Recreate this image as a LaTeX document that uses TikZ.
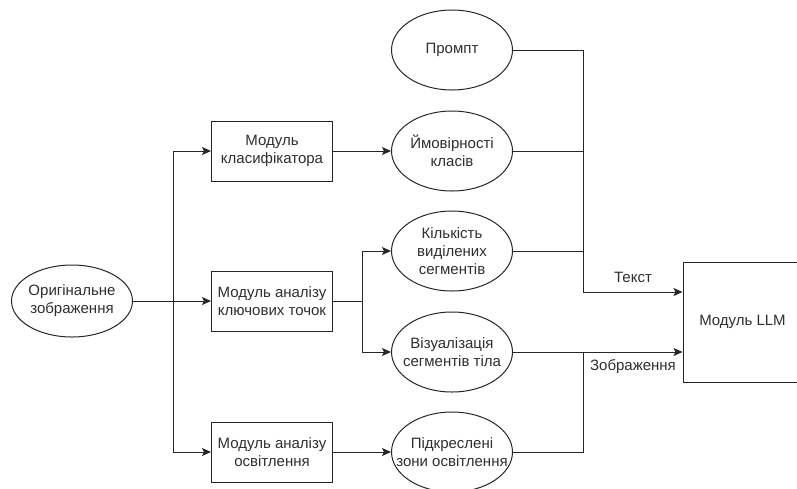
\documentclass[tikz,border=0pt]{standalone}
\usepackage{fontspec}
\setmainfont{Liberation Sans}
\usetikzlibrary{shapes.geometric,arrows.meta}

\tikzset{
  base/.style={font=\fontsize{15}{18}\selectfont, text=black!82},
  line/.style={draw=black!85, line width=1pt},
  arr/.style={line, -{Stealth[length=9pt,width=8pt,inset=2pt]}},
  modbox/.style={line, rectangle, minimum width=121pt, minimum height=60pt,
                 inner sep=0pt, base, align=center},
  oval/.style={line, ellipse, minimum width=121pt, minimum height=80pt, inner sep=0pt},
  ovaltext/.style={base, align=center, inner sep=0pt},
  lbl/.style={base, inner sep=0pt}
}

\begin{document}
\begin{tikzpicture}[x=1pt, y=-1pt]
  \useasboundingbox (0,0) rectangle (797,488);
  \clip (0,0) rectangle (797,488);

  % input image
  \node[oval, minimum height=72pt] (orig) at (72,301) {};
  \node[ovaltext] at (orig) {Оригінальне\\зображення};

  % analysis modules
  \node[modbox] (mcls) at (272,151) {Модуль\\класифікатора};
  \node[modbox] (mkey) at (272,301) {Модуль аналізу\\ключових точок};
  \node[modbox] (mlight) at (272,452) {Модуль аналізу\\освітлення};

  % intermediate results
  \node[oval] (prm) at (452,50) {};
  \node[ovaltext] at (prm) {Промпт};
  \node[oval] (prob) at (452,151) {};
  \node[ovaltext] at (prob) {Ймовірності\\класів};
  \node[oval] (cnt) at (452,251) {};
  \node[ovaltext] at (cnt) {Кількість\\виділених\\сегментів};
  \node[oval] (viz) at (452,352) {};
  \node[ovaltext] at (viz) {Візуалізація\\сегментів тіла};
  \node[oval] (zones) at (452,452) {};
  \node[ovaltext] at (zones) {Підкреслені\\зони освітлення};

  % language model
  \node[line, rectangle, minimum width=119pt, minimum height=120pt, inner sep=0pt]
    (llm) at (742.5,322) {};
  \node[lbl] at (llm) {Модуль LLM};

  % fan-out from the input image
  \coordinate (trunk) at (173,301);
  \draw[arr] (orig.east) -- (mkey.west);
  \draw[arr] (trunk) |- (mcls.west);
  \draw[arr] (trunk) |- (mlight.west);

  % module outputs
  \draw[arr] (mcls.east) -- (prob.west);
  \draw[arr] (mlight.east) -- (zones.west);
  \coordinate (split) at (362,301);
  \draw[line] (mkey.east) -- (split);
  \draw[arr] (split) |- (cnt.west);
  \draw[arr] (split) |- (viz.west);

  % text inputs
  \coordinate (tbus) at (583,292);
  \draw[line] (prm.east) -| (tbus);
  \draw[line] (prob.east) -- (prob.east -| tbus);
  \draw[line] (cnt.east) -- (cnt.east -| tbus);
  \draw[arr] (tbus) -- (tbus -| llm.west);
  \node[lbl] (ttext) at (633,277) {Текст};

  % image inputs
  \draw[arr] (viz.east) -- (viz.east -| llm.west);
  \draw[line] (zones.east) -| (583,352);
  \node[lbl] (timg) at (633,367) {Зображення};
\end{tikzpicture}
\end{document}
